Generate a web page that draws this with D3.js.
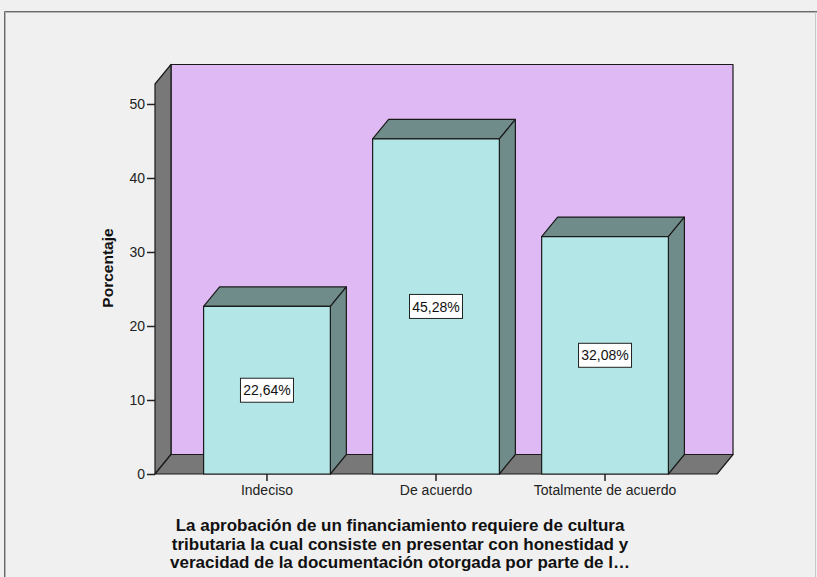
<!DOCTYPE html>
<html>
<head>
<meta charset="utf-8">
<script src="https://cdn.jsdelivr.net/npm/d3@7"></script>
<style>
  body { margin: 0; background: #f0f0f0; }
  svg { display: block; font-family: Arial, "Liberation Sans", sans-serif; }
</style>
</head>
<body>
<div id="chart"></div>
<script>
const categories = ['Indeciso', 'De acuerdo', 'Totalmente de acuerdo'];
const porcentajes = [22.64, 45.28, 32.08];
const etiquetas = ['22,64%', '45,28%', '32,08%'];
const yTicks = [0, 10, 20, 30, 40, 50];
const titulo = [
  'La aprobación de un financiamiento requiere de cultura',
  'tributaria la cual consiste en presentar con honestidad y',
  'veracidad de la documentación otorgada por parte de l…'
];

const width = 817;
const height = 577;
const dx = 16, dy = -19.5; // profundidad 3D

const svg = d3.select('#chart').append('svg')
  .attr('width', width).attr('height', height);

// marco exterior
svg.append('path')
  .attr('d', `M5.5,${height} V12.5 H${width}`)
  .attr('fill', 'none').attr('stroke', '#b4b4b4').attr('stroke-width', 1);
svg.append('path')
  .attr('d', `M4.5,${height} V11.5 H${width}`)
  .attr('fill', 'none').attr('stroke', '#6a6a6a').attr('stroke-width', 1);
svg.append('line')
  .attr('x1', 815.5).attr('x2', 815.5).attr('y1', 12).attr('y2', height)
  .attr('stroke', '#c8c8c8');

const x = d3.scaleBand().domain(categories).range([155, 717])
  .paddingInner(0.25).paddingOuter(0.2875);
const y = d3.scaleLinear().domain([0, 52.7]).range([474, 84]);

const x0 = x.range()[0], x1 = x.range()[1];
const y0 = y(0), yTop = y(52.7);

const g = svg.append('g').attr('stroke', '#1a1a1a').attr('stroke-width', 1.2)
  .attr('stroke-linejoin', 'round');

// pared del fondo
g.append('polygon')
  .attr('points', [[x0 + dx, yTop + dy], [x1 + dx, yTop + dy], [x1 + dx, y0 + dy], [x0 + dx, y0 + dy]].join(' '))
  .attr('fill', '#dfb9f3');
// pared izquierda
g.append('polygon')
  .attr('points', [[x0, y0], [x0, yTop], [x0 + dx, yTop + dy], [x0 + dx, y0 + dy]].join(' '))
  .attr('fill', '#787878');
// piso
g.append('polygon')
  .attr('points', [[x0, y0], [x1, y0], [x1 + dx, y0 + dy], [x0 + dx, y0 + dy]].join(' '))
  .attr('fill', '#787878');

// barras
const bars = g.selectAll('g.bar')
  .data(categories.map((c, i) => ({ c, v: porcentajes[i], lab: etiquetas[i] })))
  .join('g').attr('class', 'bar');

bars.append('polygon')
  .attr('points', d => {
    const l = x(d.c), r = l + x.bandwidth(), t = y(d.v);
    return [[l, t], [l + dx, t + dy], [r + dx, t + dy], [r, t]].join(' ');
  })
  .attr('fill', '#6f8c8b');
bars.append('polygon')
  .attr('points', d => {
    const r = x(d.c) + x.bandwidth(), t = y(d.v);
    return [[r, t], [r + dx, t + dy], [r + dx, y0 + dy], [r, y0]].join(' ');
  })
  .attr('fill', '#6f8c8b');
bars.append('rect')
  .attr('x', d => x(d.c)).attr('y', d => y(d.v))
  .attr('width', x.bandwidth()).attr('height', d => y0 - y(d.v))
  .attr('fill', '#b3e6e7');

// etiquetas de valor
const lab = svg.selectAll('g.lab')
  .data(categories.map((c, i) => ({ c, v: porcentajes[i], lab: etiquetas[i] })))
  .join('g').attr('class', 'lab')
  .attr('transform', d => `translate(${x(d.c) + x.bandwidth() / 2},${y(d.v / 2)})`);
lab.append('rect')
  .attr('x', -26.5).attr('y', -12).attr('width', 53).attr('height', 24)
  .attr('fill', '#fff').attr('stroke', '#222').attr('stroke-width', 1);
lab.append('text')
  .attr('text-anchor', 'middle').attr('dy', '0.36em')
  .attr('font-size', 14).attr('fill', '#111')
  .text(d => d.lab);

// eje Y
const yAxis = svg.append('g')
  .attr('transform', `translate(${x0},0)`)
  .call(d3.axisLeft(y).tickValues(yTicks).tickSize(8).tickPadding(2));
yAxis.select('.domain').remove();
yAxis.selectAll('line').attr('stroke', '#222').attr('stroke-width', 1.5);
yAxis.selectAll('text').attr('font-size', 14).attr('fill', '#222')
  .attr('font-family', 'Arial, "Liberation Sans", sans-serif');

// eje X
const xAxis = svg.append('g')
  .attr('transform', `translate(0,${y0})`)
  .call(d3.axisBottom(x).tickSize(7).tickPadding(4));
xAxis.select('.domain').remove();
xAxis.selectAll('line').attr('stroke', '#222').attr('stroke-width', 1.5);
xAxis.selectAll('text').attr('font-size', 14).attr('fill', '#222')
  .attr('font-family', 'Arial, "Liberation Sans", sans-serif');

// título eje Y
svg.append('text')
  .attr('transform', 'translate(113,268) rotate(-90)')
  .attr('text-anchor', 'middle')
  .attr('font-size', 15.5).attr('font-weight', 'bold').attr('fill', '#111')
  .text('Porcentaje');

// título eje X
svg.append('text')
  .attr('text-anchor', 'middle').attr('font-size', 17).attr('font-weight', 'bold').attr('fill', '#111')
  .selectAll('tspan').data(titulo).join('tspan')
  .attr('x', 400).attr('y', (d, i) => 531 + i * 18.5)
  .text(d => d);
</script>
</body>
</html>
